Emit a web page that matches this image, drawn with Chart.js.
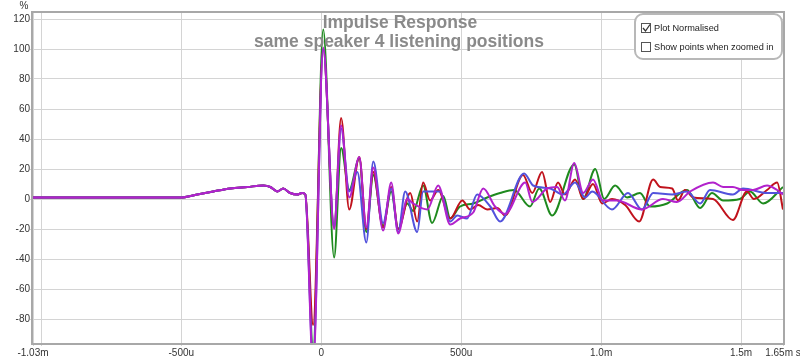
<!DOCTYPE html>
<html>
<head>
<meta charset="utf-8">
<script src="https://cdn.jsdelivr.net/npm/chart.js@4.4.0/dist/chart.umd.min.js"></script>
<style>
  html, body { margin: 0; padding: 0; background: #fff; }
  canvas { display: block; }
</style>
</head>
<body>
<canvas id="ir" width="800" height="361"></canvas>
<script>
// time in ms, values in %
const preT = [-1.03, -0.789, -0.504, -0.443, -0.386, -0.325, -0.264, -0.207, -0.182, -0.157, -0.136, -0.111, -0.086, -0.068, -0.057];
const preV = [1, 1, 1, 3, 5, 7, 8, 9, 8, 5, 7, 4, 3, 4, 3];

const redT = [-0.029, 0.007, 0.046, 0.071, 0.1, 0.136, 0.161, 0.186, 0.221, 0.25, 0.275, 0.318, 0.343, 0.364, 0.389, 0.418, 0.461, 0.504, 0.532, 0.561, 0.593, 0.629, 0.657, 0.721, 0.754, 0.789, 0.818, 0.846, 0.871, 0.907, 0.936, 0.971, 1.004, 1.039, 1.086, 1.136, 1.186, 1.211, 1.254, 1.275, 1.3, 1.329, 1.4, 1.471, 1.521, 1.546, 1.593, 1.629, 1.65];
const redV = [-84, 100, -19, 54, -7, 28, -20, 18, -19, 8, -20, 4, -15, 11, -1, 6, -13, -1, -7, -4, -7, -6, -11, 16, 4, 18, -2, 11, 3, 13, 0, 10, -3, 0, -4, -15, 13, 8, 7, -1, 6, 1, 0, -14, 5, 0, 6, 11, -7];

const greenT = [-0.029, 0.007, 0.046, 0.071, 0.1, 0.136, 0.161, 0.186, 0.221, 0.25, 0.275, 0.307, 0.329, 0.364, 0.396, 0.436, 0.461, 0.496, 0.543, 0.593, 0.639, 0.689, 0.746, 0.779, 0.825, 0.904, 0.936, 0.979, 1.011, 1.05, 1.093, 1.139, 1.175, 1.236, 1.307, 1.354, 1.396, 1.436, 1.496, 1.532, 1.579, 1.65];
const greenV = [-100, 113, -39, 34, 6, 27, -22, 16, -18, 5, -20, -3, -8, 9, -16, 2, -13, -5, -3, 1, 4, 6, -5, 7, -11, 23, 0, 20, 0, 9, 1, 4, -5, -3, 6, -6, 4, -1, 0, 5, -3, 8];

const blueT = [-0.029, 0.007, 0.046, 0.071, 0.1, 0.129, 0.161, 0.186, 0.221, 0.25, 0.275, 0.3, 0.343, 0.364, 0.425, 0.461, 0.486, 0.521, 0.557, 0.604, 0.639, 0.725, 0.757, 0.818, 0.864, 0.907, 0.943, 0.968, 1.039, 1.096, 1.146, 1.186, 1.254, 1.307, 1.354, 1.389, 1.471, 1.507, 1.593, 1.65];
const blueV = [-108, 100, -18, 47, 5, 18, -29, 25, -16, 7, -22, 5, -22, 5, 5, -15, -11, -13, 3, -5, -15, 17, 9, 7, 3, 11, 1, 5, -7, 4, -7, 4, 3, 5, -3, 6, 3, 7, 4, 4];

const magT = [-0.029, 0.007, 0.046, 0.071, 0.1, 0.136, 0.161, 0.186, 0.221, 0.25, 0.275, 0.307, 0.329, 0.379, 0.418, 0.461, 0.496, 0.543, 0.579, 0.621, 0.657, 0.729, 0.754, 0.807, 0.843, 0.871, 0.904, 0.936, 0.971, 1.007, 1.057, 1.146, 1.221, 1.271, 1.318, 1.4, 1.436, 1.471, 1.507, 1.543, 1.593, 1.629, 1.65];
const magV = [-112, 101, -20, 49, 1, 28, -19, 21, -21, 11, -23, 0, -3, -7, 9, -17, -13, -9, 7, -5, -10, 11, -2, 7, 8, -1, 24, 4, 13, -1, -1, -7, 0, -2, 5, 11, 8, 8, 6, 6, 9, 6, 3];

const yTicks = [-80, -60, -40, -20, 0, 20, 40, 60, 80, 100, 120];
const xTicks = [-1.03, -1.0, -0.5, 0, 0.5, 1.0, 1.5, 1.65];
const xLabels = ['-1.03m', '', '-500u', '0', '500u', '1.0m', '1.5m', '1.65m s'];
const titleLines = ['Impulse Response', 'same speaker 4 listening positions'];
const legendItems = ['Plot Normalised', 'Show points when zoomed in'];

const FONT = '"Liberation Sans", Arial, sans-serif';

function pts(t, v) {
  const allT = preT.concat(t), allV = preV.concat(v);
  return allT.map((x, i) => ({ x: x, y: allV[i] }));
}

const overlay = {
  id: 'overlay',
  afterDatasetsDraw(chart) {
    const ctx = chart.ctx;
    ctx.save();
    ctx.fillStyle = '#8a8a8a';
    ctx.font = 'bold 17.5px ' + FONT;
    ctx.textAlign = 'center';
    ctx.textBaseline = 'alphabetic';
    ctx.fillText(titleLines[0], 400, 28);
    ctx.fillText(titleLines[1], 399, 47);
    ctx.restore();
  },
  afterDraw(chart) {
    const ctx = chart.ctx, a = chart.chartArea;
    ctx.save();
    // plot frame
    ctx.strokeStyle = '#a8a8a8';
    ctx.lineWidth = 2;
    ctx.strokeRect(a.left - 1, a.top - 1, a.right - a.left + 2, a.bottom - a.top + 2);

    // unit label
    ctx.fillStyle = '#333';
    ctx.font = '10px ' + FONT;
    ctx.textAlign = 'center';
    ctx.textBaseline = 'middle';
    ctx.fillText('%', 24, 6);

    // option box
    ctx.beginPath();
    ctx.roundRect(635, 14, 147, 45, 8);
    ctx.fillStyle = '#fff';
    ctx.fill();
    ctx.strokeStyle = '#b8b8b8';
    ctx.lineWidth = 2;
    ctx.stroke();

    ctx.font = '9.2px ' + FONT;
    ctx.textAlign = 'left';
    legendItems.forEach((txt, i) => {
      const cy = 28 + i * 19;
      ctx.fillStyle = '#fff';
      ctx.fillRect(641.5, cy - 4.5, 9, 9);
      ctx.strokeStyle = '#555';
      ctx.lineWidth = 1;
      ctx.strokeRect(641.5, cy - 4.5, 9, 9);
      if (i === 0) {
        ctx.beginPath();
        ctx.moveTo(643, cy);
        ctx.lineTo(645.5, cy + 3);
        ctx.lineTo(650, cy - 3.5);
        ctx.strokeStyle = '#333';
        ctx.lineWidth = 1.3;
        ctx.stroke();
      }
      ctx.fillStyle = '#222';
      ctx.fillText(txt, 654, cy + 0.5);
    });
    ctx.restore();
  }
};

new Chart(document.getElementById('ir'), {
  type: 'line',
  data: {
    datasets: [
      { label: 'pos 4', data: pts(magT, magV), borderColor: '#b222cc' },
      { label: 'pos 3', data: pts(blueT, blueV), borderColor: '#5252dc' },
      { label: 'pos 1', data: pts(redT, redV), borderColor: '#c0121c' },
      { label: 'pos 2', data: pts(greenT, greenV), borderColor: '#1e8a1e' }
    ]
  },
  options: {
    responsive: false,
    animation: false,
    layout: { padding: { top: 13, right: 17, left: 0, bottom: 0 } },
    elements: {
      point: { radius: 0 },
      line: { borderWidth: 2, cubicInterpolationMode: 'monotone', fill: false }
    },
    plugins: { legend: { display: false }, tooltip: { enabled: false }, title: { display: false } },
    scales: {
      x: {
        type: 'linear',
        min: -1.03,
        max: 1.65,
        afterBuildTicks: s => { s.ticks = xTicks.map(v => ({ value: v })); },
        afterFit: s => { s.height = 18; s.paddingLeft = 0; s.paddingRight = 0; },
        ticks: {
          autoSkip: false,
          maxRotation: 0,
          padding: 1,
          color: '#333',
          font: { family: FONT, size: 10 },
          callback: (v, i) => xLabels[i]
        },
        grid: { color: '#d4d4d4', tickLength: 3 },
        border: { display: false }
      },
      y: {
        type: 'linear',
        min: -96,
        max: 124,
        afterBuildTicks: s => { s.ticks = yTicks.map(v => ({ value: v })); },
        afterFit: s => { s.width = 33; s.paddingTop = 0; s.paddingBottom = 0; },
        ticks: {
          padding: 0,
          color: '#333',
          font: { family: FONT, size: 10 }
        },
        grid: { color: '#d4d4d4', tickLength: 3 },
        border: { display: false }
      }
    }
  },
  plugins: [overlay]
});
</script>
</body>
</html>
